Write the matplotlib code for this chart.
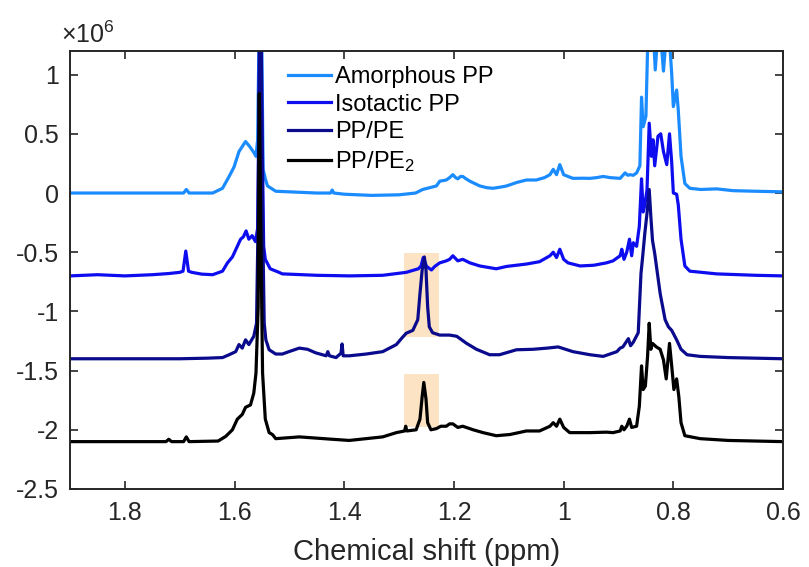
import numpy as np
import matplotlib.pyplot as plt
from matplotlib.ticker import FuncFormatter

plt.rcParams['font.family'] = 'Liberation Sans'
plt.rcParams['mathtext.fontset'] = 'custom'
plt.rcParams['mathtext.rm'] = 'Liberation Sans'
plt.rcParams['mathtext.it'] = 'Liberation Sans:italic'
plt.rcParams['axes.unicode_minus'] = False

# 1H NMR spectra, intensities in units of 1e6 above each trace's own baseline
amorphous_ppm = [1.90, 1.80, 1.70, 1.693, 1.688, 1.683, 1.64, 1.622, 1.610, 1.601, 1.592,
                 1.585, 1.580, 1.572, 1.566, 1.561, 1.558, 1.5555, 1.553, 1.5505, 1.548,
                 1.544, 1.540, 1.525, 1.50, 1.45, 1.425, 1.422, 1.419, 1.40, 1.35, 1.30,
                 1.27, 1.257, 1.24, 1.232, 1.226, 1.214, 1.208, 1.202, 1.197, 1.193, 1.188,
                 1.184, 1.178, 1.171, 1.162, 1.153, 1.140, 1.129, 1.115, 1.104, 1.085,
                 1.068, 1.050, 1.035, 1.025, 1.019, 1.013, 1.007, 1.000, 0.992, 0.983,
                 0.965, 0.952, 0.940, 0.928, 0.915, 0.897, 0.888, 0.883, 0.879, 0.873,
                 0.867, 0.861, 0.858, 0.855, 0.850, 0.846, 0.838, 0.833, 0.826, 0.818,
                 0.810, 0.803, 0.800, 0.794, 0.791, 0.786, 0.779, 0.770, 0.750, 0.721,
                 0.691, 0.65, 0.60]
amorphous_int = [0.0, 0.0, 0.0, 0.0, 0.03, 0.0, 0.0, 0.04, 0.14, 0.22, 0.35,
                 0.40, 0.435, 0.39, 0.35, 0.31, 0.45, 1.3, 2.4, 1.3, 0.2,
                 0.12, 0.06, 0.015, 0.01, 0.0, 0.0, 0.025, 0.0, -0.01, -0.02, -0.015,
                 0.0, 0.03, 0.05, 0.06, 0.10, 0.11, 0.13, 0.155, 0.13, 0.12, 0.14,
                 0.14, 0.12, 0.10, 0.08, 0.06, 0.045, 0.04, 0.05, 0.06, 0.09,
                 0.11, 0.11, 0.13, 0.155, 0.20, 0.155, 0.24, 0.155, 0.14, 0.124,
                 0.125, 0.124, 0.13, 0.14, 0.13, 0.124, 0.17, 0.15, 0.155, 0.15,
                 0.17, 0.23, 0.81, 0.56, 0.65, 1.4, 1.5, 1.04, 1.5, 1.03,
                 1.5, 1.01, 0.73, 0.87, 0.70, 0.31, 0.08, 0.04, 0.03, 0.035,
                 0.02, 0.015, 0.01]

isotactic_ppm = [1.90, 1.85, 1.80, 1.75, 1.72, 1.70, 1.694, 1.689, 1.684, 1.678, 1.66,
                 1.64, 1.622, 1.613, 1.604, 1.598, 1.589, 1.584, 1.579, 1.574, 1.568,
                 1.562, 1.558, 1.5555, 1.553, 1.5505, 1.547, 1.544, 1.535, 1.519, 1.513,
                 1.45, 1.39, 1.33, 1.287, 1.265, 1.260, 1.256, 1.250, 1.241, 1.235,
                 1.226, 1.214, 1.208, 1.202, 1.193, 1.184, 1.171, 1.153, 1.123, 1.104,
                 1.068, 1.044, 1.025, 1.019, 1.013, 1.007, 1.000, 0.992, 0.970, 0.945,
                 0.922, 0.910, 0.897, 0.894, 0.890, 0.885, 0.880, 0.876, 0.873, 0.867,
                 0.862, 0.858, 0.855, 0.852, 0.848, 0.844, 0.840, 0.837, 0.834, 0.828,
                 0.823, 0.818, 0.812, 0.807, 0.803, 0.800, 0.794, 0.791, 0.786, 0.779,
                 0.770, 0.721, 0.65, 0.60]
isotactic_int = [0.0, 0.01, 0.0, 0.01, 0.02, 0.03, 0.04, 0.21, 0.04, 0.03, 0.015,
                 0.01, 0.04, 0.11, 0.16, 0.22, 0.31, 0.33, 0.38, 0.31, 0.34,
                 0.29, 0.40, 1.5, 3.2, 1.5, 0.25, 0.14, 0.06, 0.03, 0.017,
                 0.005, 0.0, 0.005, 0.03, 0.06, 0.084, 0.155, 0.08, 0.05, 0.08,
                 0.11, 0.127, 0.14, 0.17, 0.127, 0.14, 0.11, 0.084, 0.06, 0.08,
                 0.10, 0.12, 0.17, 0.20, 0.155, 0.225, 0.14, 0.11, 0.084, 0.09,
                 0.11, 0.127, 0.17, 0.225, 0.14, 0.20, 0.31, 0.17, 0.28, 0.25,
                 0.42, 0.82, 0.54, 0.60, 0.73, 1.29, 1.01, 1.15, 0.93, 1.18,
                 1.20, 1.05, 0.94, 1.20, 0.96, 0.70, 0.69, 0.60, 0.31, 0.084,
                 0.04, 0.017, 0.005, 0.0]

pppe_ppm = [1.90, 1.80, 1.70, 1.65, 1.622, 1.610, 1.598, 1.592, 1.586, 1.580, 1.574,
            1.565, 1.560, 1.557, 1.553, 1.549, 1.546, 1.543, 1.537, 1.525, 1.513,
            1.501, 1.482, 1.467, 1.452, 1.433, 1.430, 1.427, 1.415, 1.406, 1.404,
            1.402, 1.391, 1.360, 1.330, 1.305, 1.296, 1.287, 1.275, 1.266, 1.262,
            1.258, 1.254, 1.251, 1.248, 1.245, 1.239, 1.226, 1.208, 1.195, 1.177,
            1.159, 1.135, 1.117, 1.086, 1.056, 1.030, 1.010, 0.983, 0.952, 0.928,
            0.903, 0.897, 0.892, 0.882, 0.878, 0.873, 0.864, 0.859, 0.856, 0.852,
            0.848, 0.844, 0.841, 0.838, 0.834, 0.824, 0.815, 0.809, 0.803, 0.794,
            0.786, 0.775, 0.751, 0.70, 0.60]
pppe_int = [0.0, 0.0, 0.0, 0.005, 0.01, 0.034, 0.06, 0.12, 0.09, 0.16, 0.12,
            0.19, 0.30, 1.2, 3.6, 1.2, 0.30, 0.16, 0.076, 0.04, 0.04,
            0.06, 0.09, 0.08, 0.05, 0.025, 0.06, 0.025, 0.01, 0.047, 0.125,
            0.025, 0.025, 0.04, 0.06, 0.12, 0.17, 0.216, 0.24, 0.33, 0.55,
            0.75, 0.86, 0.75, 0.44, 0.27, 0.22, 0.20, 0.20, 0.19, 0.13,
            0.08, 0.034, 0.034, 0.076, 0.08, 0.09, 0.10, 0.06, 0.034, 0.02,
            0.06, 0.09, 0.10, 0.17, 0.11, 0.14, 0.22, 0.72, 0.86, 1.06,
            1.23, 1.43, 1.20, 1.00, 0.89, 0.55, 0.33, 0.27, 0.24, 0.16,
            0.08, 0.034, 0.02, 0.01, 0.0]

pppe2_ppm = [1.90, 1.80, 1.725, 1.720, 1.715, 1.693, 1.688, 1.683, 1.63, 1.616, 1.604,
             1.595, 1.586, 1.580, 1.571, 1.565, 1.561, 1.557, 1.555, 1.552, 1.549,
             1.544, 1.537, 1.531, 1.525, 1.482, 1.422, 1.391, 1.330, 1.305, 1.290,
             1.288, 1.286, 1.269, 1.262, 1.258, 1.255, 1.251, 1.248, 1.242, 1.232,
             1.224, 1.214, 1.208, 1.202, 1.193, 1.184, 1.165, 1.147, 1.123, 1.098,
             1.068, 1.044, 1.025, 1.019, 1.013, 1.007, 1.000, 0.989, 0.952, 0.922,
             0.910, 0.897, 0.894, 0.890, 0.885, 0.880, 0.876, 0.867, 0.862, 0.858,
             0.855, 0.851, 0.847, 0.844, 0.841, 0.838, 0.831, 0.824, 0.818, 0.813,
             0.807, 0.803, 0.799, 0.794, 0.790, 0.786, 0.779, 0.751, 0.70, 0.60]
pppe2_int = [0.0, 0.0, 0.0, 0.02, 0.0, 0.0, 0.04, 0.0, 0.005, 0.045, 0.10,
             0.19, 0.23, 0.29, 0.31, 0.41, 0.58, 1.14, 2.94, 1.70, 0.58,
             0.19, 0.076, 0.06, 0.025, 0.04, 0.02, 0.01, 0.04, 0.076, 0.09,
             0.13, 0.09, 0.10, 0.19, 0.38, 0.50, 0.36, 0.16, 0.10, 0.11,
             0.13, 0.13, 0.15, 0.15, 0.12, 0.13, 0.10, 0.076, 0.05, 0.06,
             0.09, 0.09, 0.13, 0.16, 0.13, 0.19, 0.12, 0.076, 0.076, 0.08,
             0.076, 0.09, 0.13, 0.10, 0.13, 0.19, 0.12, 0.13, 0.30, 0.64,
             0.44, 0.47, 0.72, 1.00, 0.78, 0.83, 0.80, 0.78, 0.69, 0.53,
             0.83, 0.64, 0.44, 0.53, 0.38, 0.16, 0.05, 0.025, 0.01, 0.0]

labels = ['Amorphous PP', 'Isotactic PP', 'PP/PE', 'PP/PE$_2$']
offsets = [0.0, -0.7, -1.4, -2.1]
colors = ['#1a8cff', '#0d0df0', '#0a0a8c', '#000000']
spectra = [(amorphous_ppm, amorphous_int), (isotactic_ppm, isotactic_int),
           (pppe_ppm, pppe_int), (pppe2_ppm, pppe2_int)]

# shaded band around the PE peak near 1.26 ppm
band_ppm = (1.292, 1.227)
band_low = [-1.22, -1.98]
band_high = [-0.51, -1.53]

fig = plt.figure(figsize=(8.09, 5.67), dpi=100)
ax = fig.add_axes([0.0866, 0.1376, 0.8813, 0.7725])

for lo, hi in zip(band_low, band_high):
    ax.fill_between(band_ppm, lo * 1e6, hi * 1e6, color='#f9c98a', alpha=0.5,
                    linewidth=0, zorder=0)

for (ppm, inten), off, col, lab in zip(spectra, offsets, colors, labels):
    y = (off + np.array(inten)) * 1e6
    ax.plot(ppm, y, color=col, lw=2.3, label=lab, zorder=2)

ax.set_xlim(1.9, 0.6)
ax.set_ylim(-2.5e6, 1.2e6)
ax.set_xticks([1.8, 1.6, 1.4, 1.2, 1.0, 0.8, 0.6])
ax.xaxis.set_major_formatter(FuncFormatter(lambda v, p: f'{v:g}'))
ax.set_yticks(np.arange(-2.5, 1.01, 0.5) * 1e6)
ax.yaxis.set_major_formatter(FuncFormatter(lambda v, p: f'{v / 1e6:g}'))

ax.tick_params(direction='in', top=True, right=True, length=6, width=1.2,
               color='#262626', labelcolor='#262626', labelsize=18)
ax.tick_params(axis='x', pad=9)
ax.tick_params(axis='y', pad=8)
for s in ax.spines.values():
    s.set_linewidth(1.4)
    s.set_color('#262626')

ax.set_xlabel('Chemical shift (ppm)', fontsize=21, color='#262626', labelpad=9)
ax.text(-0.013, 1.018, r'$\times$10$^{6}$', transform=ax.transAxes,
        fontsize=18, color='#262626', va='baseline', ha='left')

ax.legend(loc='upper left', bbox_to_anchor=(0.306, 0.966), frameon=False,
          fontsize=17, handlelength=1.8, handletextpad=0.2, labelspacing=0.24,
          borderpad=0, borderaxespad=0)

fig.savefig('out.png', dpi=100)
